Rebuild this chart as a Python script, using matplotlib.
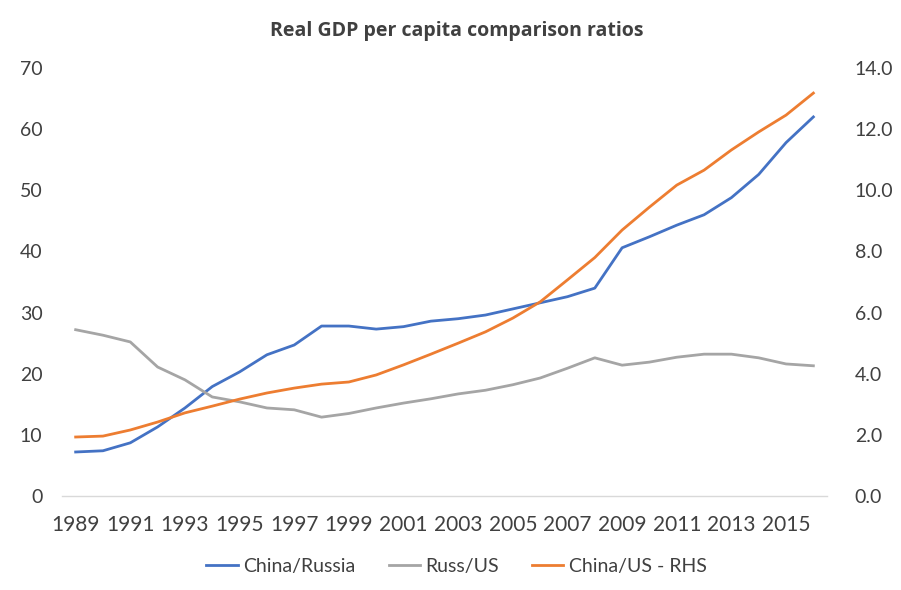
import numpy as np
import matplotlib
matplotlib.use("Agg")
import matplotlib.pyplot as plt

plt.rcParams['font.family'] = ['Lato', 'DejaVu Sans']

years = list(range(1989, 2017))
china_russia = [7.2, 7.4, 8.7, 11.3, 14.4, 17.9, 20.3, 23.1, 24.7, 27.8,
                27.8, 27.3, 27.7, 28.6, 29.0, 29.6, 30.6, 31.6, 32.6, 34.0,
                40.6, 42.4, 44.3, 46.0, 48.8, 52.6, 57.8, 62.0]
russ_us = [27.2, 26.3, 25.2, 21.1, 19.0, 16.2, 15.4, 14.4, 14.1, 12.9,
           13.5, 14.4, 15.2, 15.9, 16.7, 17.3, 18.2, 19.3, 20.9, 22.6,
           21.4, 21.9, 22.7, 23.2, 23.2, 22.6, 21.6, 21.3]
china_us = [1.93, 1.96, 2.16, 2.42, 2.72, 2.94, 3.17, 3.37, 3.53, 3.66,
            3.73, 3.96, 4.29, 4.64, 5.00, 5.37, 5.82, 6.35, 7.07, 7.80,
            8.70, 9.45, 10.17, 10.66, 11.32, 11.91, 12.46, 13.18]

left_ticks = list(range(0, 71, 10))
right_ticks = [0, 2, 4, 6, 8, 10, 12, 14]

blue = '#4472C4'
grey = '#A5A5A5'
orange = '#ED7D31'
text_col = '#404040'

fig = plt.figure(figsize=(9.01, 5.90), dpi=100)
ax = fig.add_axes([0.0688, 0.1593, 0.8491, 0.7254])
ax2 = ax.twinx()

l1, = ax.plot(years, china_russia, color=blue, lw=2.0, label='China/Russia')
l2, = ax.plot(years, russ_us, color=grey, lw=2.0, label='Russ/US')
l3, = ax2.plot(years, china_us, color=orange, lw=2.0, label='China/US - RHS')

ax.set_xlim(1988.5, 2016.5)
ax.set_ylim(0, 70)
ax2.set_ylim(0, 14)
ax.set_yticks(left_ticks)
ax2.set_yticks(right_ticks)
ax2.set_yticklabels([f'{v:.1f}' for v in right_ticks])
ax.set_xticks(years[::2])
ax.set_xticklabels([str(y) for y in years[::2]])

for a in (ax, ax2):
    for s in a.spines.values():
        s.set_visible(False)
    a.tick_params(length=0, labelsize=14, labelcolor=text_col)
ax.spines['bottom'].set_visible(True)
ax.spines['bottom'].set_color('#D9D9D9')
ax.spines['bottom'].set_linewidth(1.0)
ax.tick_params(axis='y', pad=14)
ax.tick_params(axis='x', pad=14)
ax.tick_params(axis='x', labelsize=15)
ax2.tick_params(axis='y', pad=20)

fig.text(0.507, 0.948, 'Real GDP per capita comparison ratios', ha='center',
         va='center', fontsize=14, fontweight='bold', color='#404040',
         family=['Open Sans', 'DejaVu Sans'])

fig.legend(handles=[l1, l2, l3], loc='center', bbox_to_anchor=(0.507, 0.04),
           ncol=3, frameon=False, fontsize=14, labelcolor=text_col,
           handlelength=1.6, handletextpad=0.3, columnspacing=1.7)

fig.savefig('out.png', dpi=100)
